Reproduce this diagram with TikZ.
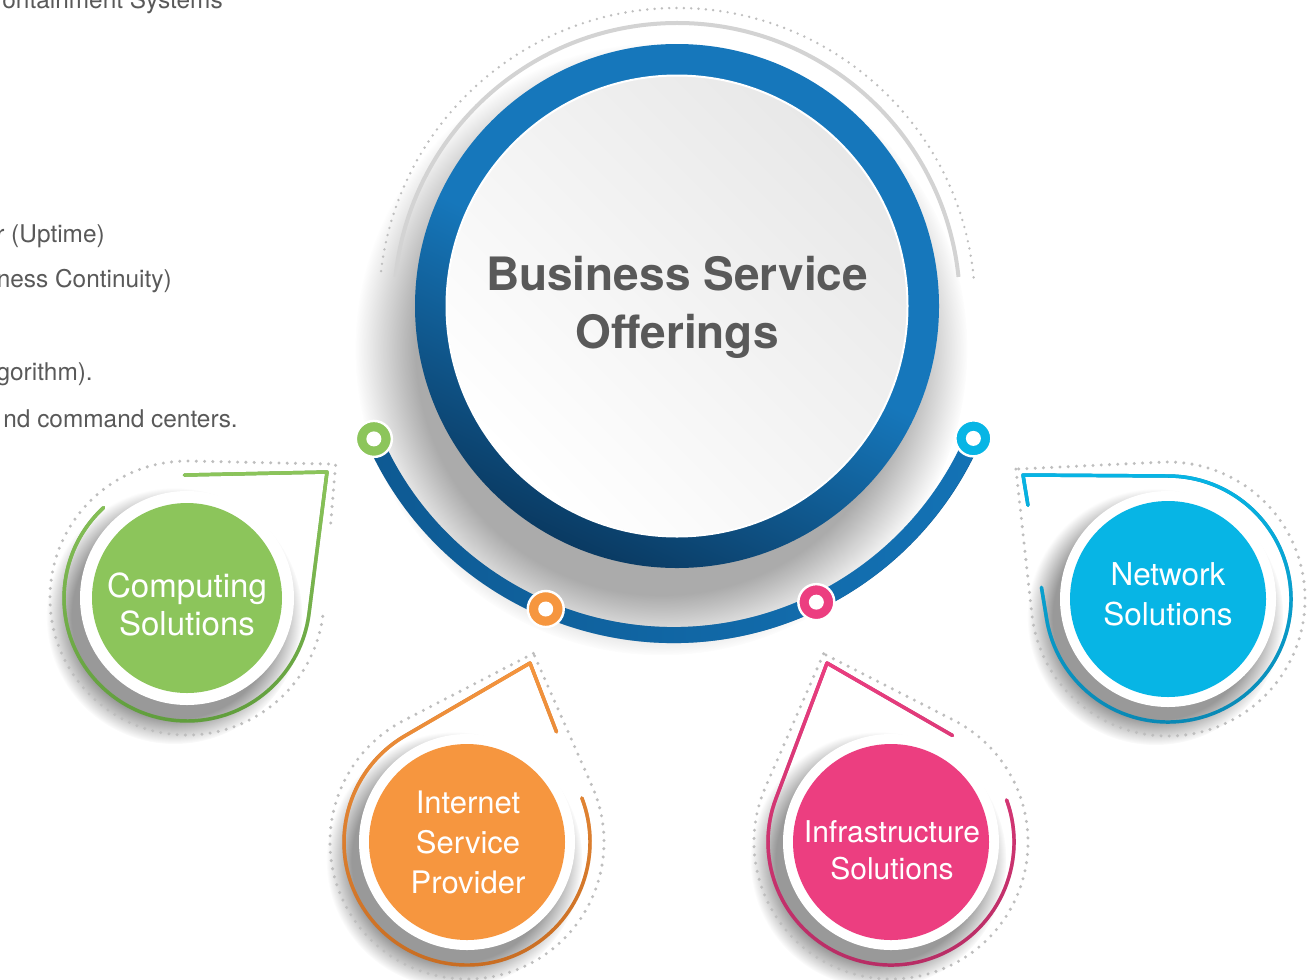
\documentclass[tikz,border=0pt]{standalone}
\usepackage{fontspec}
\setmainfont{TeX Gyre Heros}
\usetikzlibrary{calc,fadings}
\definecolor{ringblue}{HTML}{1677BB}
\definecolor{ringdark}{HTML}{0A3A62}
\definecolor{tracklight}{HTML}{1473B6}
\definecolor{trackdark}{HTML}{0E5A93}
\definecolor{cgreen}{HTML}{8CC55B}
\definecolor{cgreendk}{HTML}{5E9C3B}
\definecolor{corange}{HTML}{F6963F}
\definecolor{corangedk}{HTML}{C66B21}
\definecolor{cpink}{HTML}{EC3E80}
\definecolor{cpinkdk}{HTML}{B52C64}
\definecolor{ccyan}{HTML}{07B5E5}
\definecolor{ccyandk}{HTML}{0A87B3}
\definecolor{dotgray}{HTML}{BEBEBE}
\definecolor{arcgray}{HTML}{D3D3D3}
\definecolor{txtgray}{HTML}{595959}
\definecolor{discgray}{HTML}{E8E8E8}
\begin{document}
\begin{tikzpicture}[x=0.75pt,y=0.75pt,
  dots/.style={dotgray, line width=2.5pt, line cap=round, dash pattern=on 0pt off 6.2pt},
  maindots/.style={dotgray, line width=2pt, line cap=round, dash pattern=on 0pt off 5.5pt},
  tdstroke/.style={line width=2.6pt, line cap=round, line join=round},
  softshadow/.style={fill=black, opacity=0.4, path fading=circle with fuzzy edge 20 percent},
  disc/.style={circle, inner sep=0pt, outer sep=0pt, minimum size=#1*1.5pt},
  mk/.style={circle, fill=#1, draw=white, line width=1.8pt, minimum size=27pt, inner sep=0pt,
    path picture={\fill[white] (path picture bounding box.center) circle (7.5);}},
  lbl/.style={text=white, align=center, inner sep=0pt},
  lefttxt/.style={anchor=base east, text=txtgray, font=\fontsize{18.3pt}{22pt}\selectfont, inner sep=0pt}
]
\useasboundingbox (0,0) rectangle (1312,-979);
\clip (0,0) rectangle (1312,-979);
\fill[white] (0,0) rectangle (1312,-979);

\coordinate (mc) at (677,-306);
\coordinate (tc) at (673.5,-308);

% main shadow
\fill[black, opacity=0.33, path fading=circle with fuzzy edge 20 percent] ($(mc)+(250:46)$) circle (306);

% outer arcs
\draw[arcgray, line width=3pt] ($(mc)+(5.9:283)$) arc[start angle=5.9, end angle=174.1, radius=283];
\draw[maindots] ($(mc)+(5.5:298)$) arc[start angle=5.5, end angle=174.5, radius=298];

% track
\draw[trackdark, line width=12pt] ($(tc)+(203.6:327)$) arc[start angle=203.6, end angle=336.5, radius=327];
\draw[tracklight, line width=12pt, path fading=west] ($(tc)+(203.6:327)$) arc[start angle=203.6, end angle=336.5, radius=327];

% ring and disc
\shade[top color=ringblue, bottom color=ringdark, middle color=ringblue, shading angle=-25] (mc) circle (262);
\shade[top color=discgray, bottom color=white, shading angle=-45] (mc) circle (230);
\draw[white, line width=1.5pt] (mc) circle (230.5);
\node[font=\bfseries\fontsize{34.5pt}{43.5pt}\selectfont, text=txtgray, align=center, inner sep=0pt] (title) at (677,-307.5) {Business Service\\Offerings};

% markers
\node[mk=cgreen] (mg) at ($(tc)+(203.6:327)$) {};
\node[mk=corange] (mo) at ($(tc)+(247.0:327)$) {};
\node[mk=cpink] (mp) at ($(tc)+(295.9:327)$) {};
\node[mk=ccyan] (mcy) at ($(tc)+(336.5:327)$) {};

% ---------- green teardrop
\coordinate (gc) at (187,-598);
\coordinate (gtip) at (327,-472);
\coordinate (gt1) at ($(gc)+(91.2:123)$);
\coordinate (gdtip) at ($(gc)+(42:200)$);
\coordinate (gd1) at ($(gc)+(88.8:137)$);
\coordinate (gd2) at ($(gc)+(-4.8:137)$);
\fill[softshadow] ($(gc)+(235:22)$) circle (128);
\draw[dots] ($(gdtip)!0.405!(gd2)$) -- (gdtip) -- (gd1) arc[start angle=88.8, end angle=355.2, radius=137];
\draw[tdstroke, cgreendk] ($(gc)+(132.7:123)$) arc[start angle=132.7, end angle=352.8, radius=123] -- (gtip) -- (gt1);
\draw[tdstroke, cgreen, path fading=south] ($(gc)+(132.7:123)$) arc[start angle=132.7, end angle=352.8, radius=123] -- (gtip) -- (gt1);
\node[disc=107, fill=white] (gw) at (gc) {};
\node[disc=95, fill=cgreen] (gdisc) at (gc) {};
\node[lbl, font=\fontsize{24.75pt}{28.5pt}\selectfont] (gtext) at (187,-604) {Computing\\Solutions};

% ---------- orange teardrop
\coordinate (oc) at (467,-842);
\coordinate (otip) at (530,-663);
\coordinate (ot1) at ($(oc)+(120.2:123)$);
\coordinate (ot2) at ($(oc)+(21.0:123)$);
\coordinate (odtip) at ($(oc)+(70.6:200)$);
\coordinate (od1) at ($(oc)+(117.4:137)$);
\fill[softshadow] ($(oc)+(235:22)$) circle (128);
\draw[dots] (odtip) -- (od1) arc[start angle=117.4, end angle=383.8, radius=137] -- cycle;
\draw[tdstroke, corangedk] ($(otip)!0.51!(ot2)$) -- (otip) -- (ot1) arc[start angle=120.2, end angle=381.0, radius=123];
\draw[tdstroke, corange, path fading=south] ($(otip)!0.51!(ot2)$) -- (otip) -- (ot1) arc[start angle=120.2, end angle=381.0, radius=123];
\node[disc=108, fill=white] (ow) at (oc) {};
\node[disc=98, fill=corange] (odisc) at (oc) {};
\node[lbl, font=\fontsize{23.25pt}{30pt}\selectfont] (otext) at (468,-842) {Internet\\Service\\Provider};

% ---------- pink teardrop
\coordinate (pc) at (891,-842);
\coordinate (ptip) at (827,-663);
\coordinate (pt2) at ($(pc)+(60.0:123)$);
\coordinate (pdtip) at ($(pc)+(109.7:200)$);
\coordinate (pd1) at ($(pc)+(156.5:137)$);
\fill[softshadow] ($(pc)+(235:22)$) circle (128);
\draw[dots] (pdtip) -- (pd1) arc[start angle=156.5, end angle=422.9, radius=137] -- cycle;
\draw[tdstroke, cpinkdk] ($(pc)+(20:123)$) arc[start angle=20, end angle=-200.6, radius=123] -- (ptip) -- (pt2);
\draw[tdstroke, cpink, path fading=south] ($(pc)+(20:123)$) arc[start angle=20, end angle=-200.6, radius=123] -- (ptip) -- (pt2);
\node[disc=108, fill=white] (pw) at (pc) {};
\node[disc=98, fill=cpink] (pdisc) at (pc) {};
\node[lbl, font=\fontsize{22.5pt}{27.75pt}\selectfont] (ptext) at (892,-850.5) {Infrastructure\\Solutions};

% ---------- cyan teardrop
\coordinate (cc) at (1168,-599);
\coordinate (ctip) at (1023,-475);
\coordinate (ct1) at ($(cc)+(189.4:123)$);
\coordinate (cdtip) at ($(cc)+(139.5:200)$);
\coordinate (cd1) at ($(cc)+(186.3:137)$);
\fill[softshadow] ($(cc)+(235:22)$) circle (128);
\draw[dots] (cdtip) -- (cd1) arc[start angle=186.3, end angle=452.7, radius=137] -- cycle;
\draw[tdstroke, ccyandk] ($(ctip)!0.78!(ct1)$) -- (ct1) arc[start angle=189.4, end angle=449.6, radius=123] -- (ctip) -- ($(ctip)!0.21!(ct1)$);
\draw[tdstroke, ccyan, path fading=south] ($(ctip)!0.78!(ct1)$) -- (ct1) arc[start angle=189.4, end angle=449.6, radius=123] -- (ctip) -- ($(ctip)!0.21!(ct1)$);
\node[disc=108, fill=white] (cw) at (cc) {};
\node[disc=98, fill=ccyan] (cdisc) at (cc) {};
\node[lbl, font=\fontsize{23.6pt}{30pt}\selectfont] (ctext) at (1168,-594) {Network\\Solutions};

% ---------- left texts
\node[lefttxt] (l1) at (223,-8) {ontainment Systems};
\node[lefttxt] (l2) at (105,-242) {r (Uptime)};
\node[lefttxt] (l3) at (172,-287) {ness Continuity)};
\node[lefttxt] (l4) at (93,-380) {gorithm).};
\node[lefttxt] (l5) at (238,-427) {nd command centers.};
\end{tikzpicture}
\end{document}
